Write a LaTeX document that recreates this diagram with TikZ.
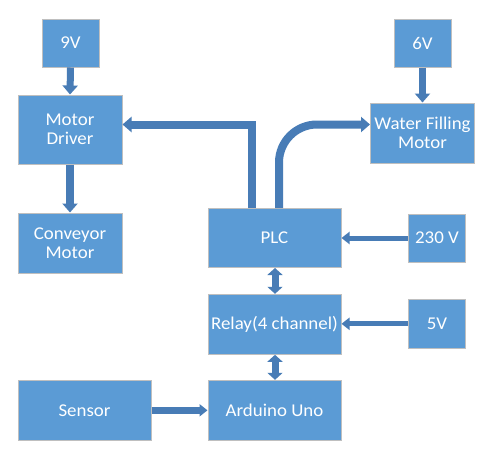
\documentclass[tikz,border=0pt]{standalone}
\usepackage{fontspec}
\setmainfont{Carlito}[FakeStretch=1.05]
\usetikzlibrary{arrows.meta}
\definecolor{boxfill}{RGB}{91,155,213}
\definecolor{boxline}{RGB}{191,191,191}
\definecolor{arrowc}{RGB}{72,124,182}
\tikzset{
  blk/.style={draw=boxline, line width=1pt, fill=boxfill, text=white, inner sep=0pt,
    align=center, font=\fontsize{18}{19}\selectfont},
  conn/.style={draw=arrowc, line width=8pt, -{Triangle[width=15pt,length=9pt]}},
  thinconn/.style={draw=arrowc, line width=5pt, -{Triangle[width=12pt,length=8pt]}},
  dconn/.style={draw=arrowc, line width=7pt, {Triangle[width=15pt,length=7pt]}-{Triangle[width=15pt,length=7pt]}}
}
\begin{document}
\begin{tikzpicture}[x=1pt,y=-1pt]
\useasboundingbox[fill=white] (0,0) rectangle (492,463);
\node[blk, minimum width=57pt, minimum height=48pt] (v9) at (70.5,43) {9V};
\node[blk, minimum width=104pt, minimum height=69pt] (md) at (70,129.5) {Motor\\Driver};
\node[blk, minimum width=104pt, minimum height=60pt] (cm) at (70,243) {Conveyor\\Motor};
\node[blk, minimum width=133pt, minimum height=59pt] (plc) at (274.5,238) {PLC};
\node[blk, minimum width=57pt, minimum height=48pt] (v6) at (422.5,43) {6V};
\node[blk, minimum width=104pt, minimum height=60pt] (wfm) at (422.5,133) {Water Filling\\Motor};
\node[blk, minimum width=57.5pt, minimum height=48pt] (v230) at (437,238) {230 V};
\node[blk, minimum width=133pt, minimum height=60pt] (relay) at (274.5,324.3) {Relay(4 channel)};
\node[blk, minimum width=57pt, minimum height=49pt] (v5) at (437,323.8) {5V};
\node[blk, minimum width=133pt, minimum height=60pt] (ard) at (274.5,410.3) {Arduino Uno};
\node[blk, minimum width=133pt, minimum height=60pt] (sens) at (84.5,410.3) {Sensor};

\coordinate (c1) at (251.5,124.5);
\coordinate (c2) at (279,124.5);
\coordinate (c3) at (275,0);

\draw[conn, line width=7pt] (v9.south) -- (md.north);
\draw[conn] (md.south) -- (cm.north);
\draw[conn] (plc.north -| c1) -- (c1) -- (c1 -| md.east);
\draw[conn, rounded corners=38pt] (plc.north -| c2) -- (c2) -- (c2 -| wfm.west);
\draw[conn, line width=7pt] (v6.south) -- (wfm.north);
\draw[thinconn] (v230.west) -- (plc.east |- v230.west);
\draw[thinconn] (v5.west) -- (relay.east |- v5.west);
\draw[dconn] (plc.south -| c3) -- (relay.north -| c3);
\draw[dconn] (relay.south -| c3) -- (ard.north -| c3);
\draw[conn, line width=7pt, -{Triangle[width=12pt,length=8pt]}] (sens.east) -- (ard.west);
\end{tikzpicture}
\end{document}
